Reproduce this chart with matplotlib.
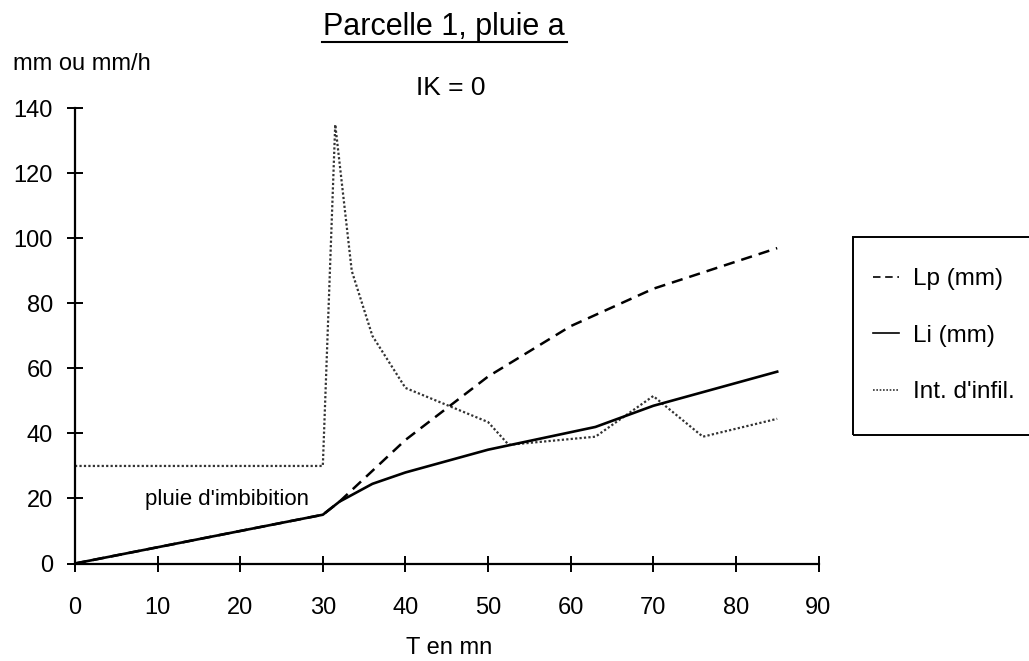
import matplotlib
matplotlib.use("Agg")
import matplotlib.pyplot as plt
from matplotlib.lines import Line2D
from matplotlib.patches import Rectangle

plt.rcParams['font.family'] = ['Liberation Sans', 'DejaVu Sans']

# Data
t_lp = [0, 30, 32, 40, 50, 60, 70, 85]
lp = [0, 15, 19, 38, 57.5, 73, 84.5, 97]

t_li = [0, 30, 32, 36, 40, 50, 63, 70, 85]
li = [0, 15, 19, 24.5, 28, 35, 42, 48.5, 59]

t_int = [0, 30, 31.5, 33.5, 36, 40, 50, 52.5, 63, 70, 76, 85]
intens = [30, 30, 135, 90, 70, 54, 43.5, 36.5, 39, 51.5, 39, 44.5]

x_ticks = [0, 10, 20, 30, 40, 50, 60, 70, 80, 90]
y_ticks = [0, 20, 40, 60, 80, 100, 120, 140]

W, H = 1029, 661
fig = plt.figure(figsize=(W/100, H/100), dpi=100)
ax = fig.add_axes([75/W, 1-563.5/H, (818.5-75)/W, (563.5-108.3)/H])

int_style = dict(color='#333333', ls=(0, (1, 1)))
lp_style = dict(color='black', ls=(0, (4.5, 2.8)))
li_style = dict(color='black', ls='-')

ax.plot(t_int, intens, lw=1.6, **int_style)
ax.plot(t_lp, lp, lw=1.8, **lp_style)
ax.plot(t_li, li, lw=1.9, **li_style)

ax.set_xlim(0, 90)
ax.set_ylim(0, 140)
ax.set_xticks(x_ticks)
ax.set_yticks(y_ticks)
for s in ['top', 'right']:
    ax.spines[s].set_visible(False)
for s in ['left', 'bottom']:
    ax.spines[s].set_linewidth(1.6)
ax.tick_params(direction='inout', length=12, width=1.4, labelsize=17)
ax.tick_params(axis='y', pad=10)
ax.tick_params(axis='x', pad=18)

# Texts
fig.text(444/W, 1-35/H, 'Parcelle 1, pluie a', fontsize=22, ha='center', va='baseline')
fig.add_artist(Line2D([322/W, 567/W], [1-42/H, 1-42/H], color='black', lw=1.5))
fig.text(451/W, 1-88/H, 'IK = 0', fontsize=19, ha='center', va='center')
fig.text(13/W, 1-64/H, 'mm ou mm/h', fontsize=17, ha='left', va='center')
fig.text(449/W, 1-648/H, 'T en mn', fontsize=17, ha='center', va='center')
fig.text(227/W, 1-500/H, "pluie d'imbibition", fontsize=16, ha='center', va='center')

# Legend
handles = [Line2D([], [], lw=1.2, **lp_style),
           Line2D([], [], lw=1.2, **li_style),
           Line2D([], [], lw=1.2, **int_style)]
labels = ['Lp (mm)', 'Li (mm)', "Int. d'infil."]
leg = fig.legend(handles, labels,
                 loc='upper left', bbox_to_anchor=(873/W, 1-268/H),
                 frameon=False, borderpad=0, borderaxespad=0,
                 fontsize=17.5, handlelength=1.05, handletextpad=0.6,
                 labelspacing=1.42)
fig.add_artist(Rectangle((853/W, 1-435/H), 0.3, (435-237)/H, transform=fig.transFigure,
                         fill=False, edgecolor='black', lw=1.4))

fig.savefig('out.png', dpi=100)
